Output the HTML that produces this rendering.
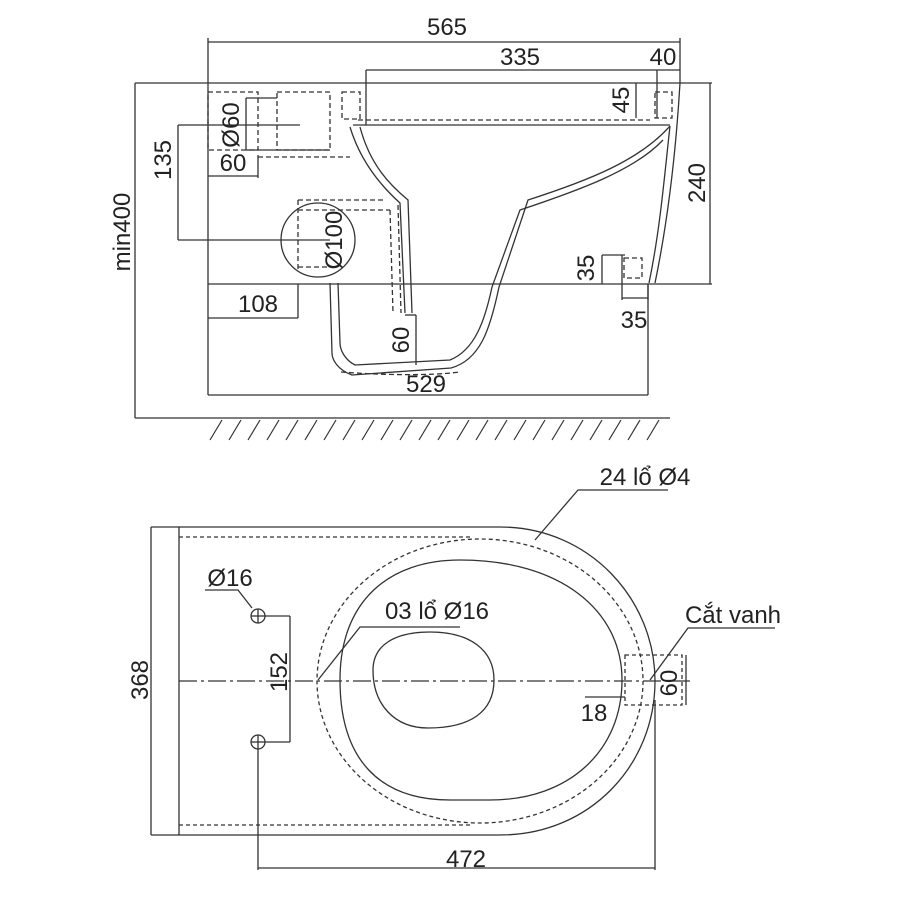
<!DOCTYPE html>
<html><head><meta charset="utf-8"><style>
html,body{margin:0;padding:0;background:#fff}
svg{display:block}
text{font-family:"Liberation Sans","Noto Sans CJK SC",sans-serif;font-size:24px;fill:#222}
</style></head><body>
<svg width="900" height="900" viewBox="0 0 900 900" fill="none" stroke="#333" stroke-width="1.3">
<line x1="208" y1="42" x2="680" y2="42"/>
<line x1="208" y1="38" x2="208" y2="395"/>
<line x1="680" y1="38" x2="680" y2="83"/>
<line x1="366" y1="70" x2="680" y2="70"/>
<line x1="366" y1="70" x2="366" y2="125"/>
<line x1="657" y1="70" x2="657" y2="118"/>
<line x1="135" y1="83" x2="712" y2="83"/>
<line x1="135" y1="83" x2="135" y2="418"/>
<line x1="135" y1="418" x2="670" y2="418"/>
<line x1="208" y1="284" x2="712" y2="284"/>
<line x1="710" y1="83" x2="710" y2="284"/>
<line x1="636" y1="83" x2="636" y2="118"/>
<line x1="208" y1="395" x2="648" y2="395"/>
<line x1="648" y1="284" x2="648" y2="395"/>
<line x1="178" y1="125" x2="178" y2="240"/>
<line x1="178" y1="125" x2="300" y2="125"/>
<line x1="178" y1="240" x2="330" y2="240"/>
<line x1="246" y1="98" x2="246" y2="150"/>
<line x1="246" y1="98" x2="277" y2="98"/>
<line x1="246" y1="150" x2="330" y2="150"/>
<line x1="208" y1="176" x2="258" y2="176"/>
<line x1="258" y1="155" x2="258" y2="178"/>
<line x1="208" y1="318" x2="298" y2="318"/>
<line x1="298" y1="284" x2="298" y2="318"/>
<line x1="602" y1="255" x2="602" y2="284"/>
<line x1="602" y1="255" x2="625" y2="255"/>
<line x1="622" y1="255" x2="622" y2="300"/>
<line x1="648" y1="300" x2="648" y2="284"/>
<line x1="622" y1="298" x2="648" y2="298"/>
<line x1="416" y1="315" x2="416" y2="365"/>
<line x1="405" y1="315" x2="416" y2="315"/>
<g stroke-dasharray="5,3">
<rect x="208" y="92" width="50" height="58"/>
<rect x="277" y="92" width="53" height="58"/>
<rect x="342" y="92" width="18" height="27"/>
<rect x="655" y="92" width="17" height="26"/>
<rect x="624" y="258" width="18" height="20"/>
<line x1="358" y1="120" x2="650" y2="120"/>
<line x1="298" y1="200" x2="385" y2="200"/>
<line x1="298" y1="210" x2="390" y2="210"/>
<line x1="298" y1="200" x2="298" y2="270"/>
<line x1="298" y1="267" x2="330" y2="267"/>
<line x1="390" y1="210" x2="393" y2="313"/>
<line x1="398" y1="205" x2="401" y2="313"/>
<line x1="258" y1="157" x2="350" y2="157"/>
<path d="M341 372 C 380 375 430 376 460 372"/>
</g>
<path d="M350 127 C 360 160 380 185 400 203 L 405 313" />
<path d="M360 127 C 370 165 390 185 408 200 L 412 313" />
<path d="M670 126 C 640 160 590 180 528 200 L 499 287 C 490 330 480 360 451 368 L 352 375 C 338 370 332 360 332 353 L 330 283" />
<path d="M663 140 C 635 170 580 190 520 210 L 492 287 C 485 320 475 350 450 360 L 355 365 C 345 360 340 350 340 343 L 338 283" />
<path d="M680 83 C 676 150 668 220 655 283" />
<path d="M670 126 C 664 180 660 230 649 283" />
<line x1="353" y1="125" x2="670" y2="125"/>
<circle cx="318" cy="240" r="37"/>
<g stroke-width="1.2">
<path d="M210 440 L222 420 M229 440 L241 420 M248 440 L260 420 M267 440 L279 420 M286 440 L298 420 M305 440 L317 420 M324 440 L336 420 M343 440 L355 420 M362 440 L374 420 M381 440 L393 420 M400 440 L412 420 M419 440 L431 420 M438 440 L450 420 M457 440 L469 420 M476 440 L488 420 M495 440 L507 420 M514 440 L526 420 M533 440 L545 420 M552 440 L564 420 M571 440 L583 420 M590 440 L602 420 M609 440 L621 420 M628 440 L640 420 M647 440 L659 420"/>
</g>
<g stroke="none">
<text x="447" y="35" text-anchor="middle">565</text>
<text x="520" y="65" text-anchor="middle">335</text>
<text x="663" y="65" text-anchor="middle">40</text>
<text x="426" y="392" text-anchor="middle">529</text>
<text x="258" y="312" text-anchor="middle">108</text>
<text x="233" y="171" text-anchor="middle">60</text>
<text x="634" y="328" text-anchor="middle">35</text>
<text transform="translate(130,232) rotate(-90)" text-anchor="middle">min400</text>
<text transform="translate(171,160) rotate(-90)" text-anchor="middle">135</text>
<text transform="translate(239,125) rotate(-90)" text-anchor="middle">Ø60</text>
<text transform="translate(342,240) rotate(-90)" text-anchor="middle">Ø100</text>
<text transform="translate(705,183) rotate(-90)" text-anchor="middle">240</text>
<text transform="translate(629,100) rotate(-90)" text-anchor="middle">45</text>
<text transform="translate(594,268) rotate(-90)" text-anchor="middle">35</text>
<text transform="translate(409,340) rotate(-90)" text-anchor="middle">60</text>
</g>

<line x1="151" y1="527" x2="151" y2="835"/>
<line x1="151" y1="527" x2="179" y2="527"/>
<line x1="151" y1="835" x2="179" y2="835"/>
<path d="M179 527 H500 C 590 527 655 600 655 681 C 655 765 590 835 500 835 H179 Z"/>
<g stroke-dasharray="4,3">
<line x1="179" y1="537" x2="470" y2="537"/>
<line x1="179" y1="825" x2="470" y2="825"/>
<ellipse cx="480" cy="681" rx="163" ry="142"/>
<rect x="625" y="655" width="57" height="50"/>
</g>
<path d="M460 560 C 560 560 622 610 622 680 C 622 750 570 800 490 800 L 450 800 C 380 800 340 760 340 680 C 340 600 390 560 460 560 Z"/>
<path d="M430 632 C 470 632 494 650 494 680 C 494 712 470 728 428 728 C 395 728 373 705 373 670 C 373 645 395 632 430 632 Z"/>
<line x1="179" y1="681" x2="690" y2="681" stroke-dasharray="18,4,3,4"/>
<circle cx="258" cy="616" r="7"/><line x1="251" y1="616" x2="265" y2="616"/><line x1="258" y1="609" x2="258" y2="623"/>
<circle cx="258" cy="742" r="7"/><line x1="251" y1="742" x2="265" y2="742"/><line x1="258" y1="735" x2="258" y2="749"/>
<line x1="265" y1="616" x2="290" y2="616"/><line x1="265" y1="742" x2="290" y2="742"/>
<line x1="290" y1="616" x2="290" y2="742"/>
<polyline points="205,590 238,590 252,608"/>
<polyline points="460,627 360,627 318,680"/>
<polyline points="668,490 578,490 535,540"/>
<polyline points="775,628 688,628 650,680"/>
<line x1="686" y1="655" x2="686" y2="705"/>
<line x1="585" y1="697" x2="625" y2="697"/>
<line x1="258" y1="749" x2="258" y2="870"/>
<line x1="655" y1="700" x2="655" y2="870"/>
<line x1="258" y1="868" x2="655" y2="868"/>
<g stroke="none">
<text transform="translate(148,680) rotate(-90)" text-anchor="middle">368</text>
<text transform="translate(287,672) rotate(-90)" text-anchor="middle">152</text>
<text transform="translate(677,683) rotate(-90)" text-anchor="middle">60</text>
<text x="230" y="586" text-anchor="middle">Ø16</text>
<text x="437" y="619" text-anchor="middle">03 lổ Ø16</text>
<text x="645" y="485" text-anchor="middle">24 lổ Ø4</text>
<text x="733" y="623" text-anchor="middle">Cắt vanh</text>
<text x="594" y="721" text-anchor="middle">18</text>
<text x="466" y="867" text-anchor="middle">472</text>
</g>
</svg>
</body></html>
